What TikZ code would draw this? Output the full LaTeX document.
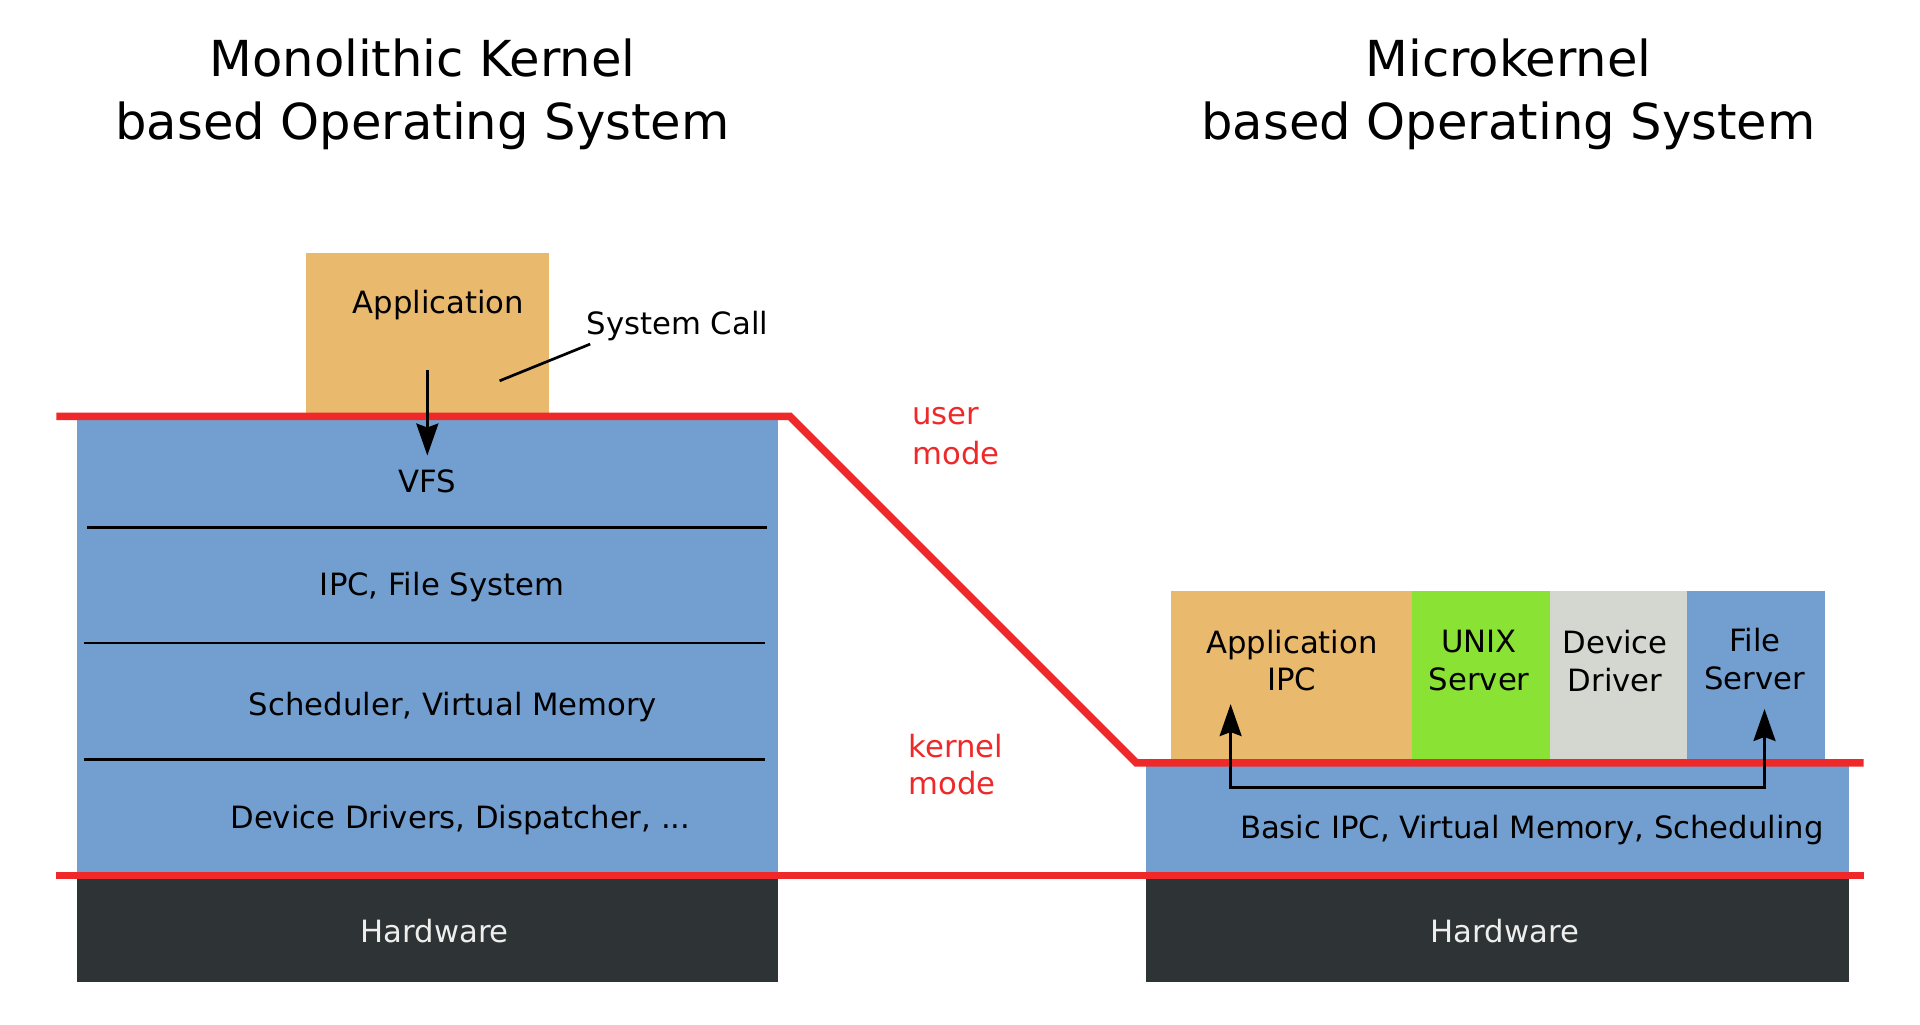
\documentclass[tikz,border=0pt]{standalone}
\usepackage{fontspec}
\setmainfont{DejaVu Sans}
\usetikzlibrary{arrows.meta,fit}
\definecolor{tblue}{HTML}{729FCF}
\definecolor{torange}{HTML}{E9B96E}
\definecolor{tgreen}{HTML}{8AE234}
\definecolor{tgrey}{HTML}{D3D7CF}
\definecolor{tdark}{HTML}{2E3436}
\definecolor{tred}{HTML}{EF2929}
\definecolor{tlight}{HTML}{EEEEEC}
\begin{document}
\begin{tikzpicture}[x=1.2245pt,y=-1.2245pt,
  box/.style={inner sep=0pt,outer sep=0pt,draw=none},
  lbl/.style={font=\fontsize{30.7}{36}\selectfont,anchor=base,inner sep=0pt},
  ttl/.style={font=\fontsize{49.6}{60}\selectfont,anchor=base,inner sep=0pt},
  redtxt/.style={lbl,anchor=base west,text=tred},
  redline/.style={draw=tred,line width=7.6pt},
  sepline/.style={draw=black,line width=2.7pt},
  arr/.style={draw=black,line width=2.7pt,-{Stealth[length=32pt,width=22pt,inset=4pt]}},
  darr/.style={draw=black,line width=2.7pt,{Stealth[length=32pt,width=22pt,inset=4pt]}-{Stealth[length=32pt,width=22pt,inset=4pt]}},
  lead/.style={draw=black,line width=2.7pt}]
\useasboundingbox (0,0) rectangle (1568,836.3);
\fill[white] (0,0) rectangle (1568,836.3);

% titles
\node[ttl] (t1a) at (345,62.5) {Monolithic Kernel};
\node[ttl] (t1b) at (345,114) {based Operating System};
\node[ttl] (t2a) at (1232,62.5) {Microkernel};
\node[ttl] (t2b) at (1232,114) {based Operating System};

% monolithic
\node[box,fill=torange,fit={(250,207) (448,340)}] (app) {};
\node[box,fill=tblue,fit={(63,340) (635,715)}] (mono) {};
\node[box,fill=tdark,fit={(63,715) (635,802)}] (hw1) {};
\node[lbl] (applbl) at (358,256) {Application};
\node[lbl,anchor=base west] (syscall) at (479,273) {System Call};
\node[lbl] (vfs) at (349,402) {VFS};
\node[lbl] (ipcfs) at (361,486) {IPC, File System};
\node[lbl] (sched) at (370,584) {Scheduler, Virtual Memory};
\node[lbl] (devdrv) at (376,677) {Device Drivers, Dispatcher, ...};
\node[lbl,text=tlight] (hw1lbl) at (355,770) {Hardware};
\draw[sepline] (71,431) -- (626,431);
\draw[sepline] (69,525) -- (625,525);
\draw[sepline] (69,620) -- (625,620);

% microkernel
\node[box,fill=tblue,fit={(936,623) (1510,715)}] (mk) {};
\node[box,fill=tdark,fit={(936,715) (1510,802)}] (hw2) {};
\node[box,fill=torange,fit={(956,483) (1153,623)}] (aipc) {};
\node[box,fill=tgreen,fit={(1153,483) (1266,623)}] (unix) {};
\node[box,fill=tgrey,fit={(1266,483) (1378,623)}] (dd) {};
\node[box,fill=tblue,fit={(1378,483) (1490,623)}] (fs) {};
\node[lbl] (aipc1) at (1055,534) {Application};
\node[lbl] (aipc2) at (1055,564) {IPC};
\node[lbl] (unix1) at (1208,533) {UNIX};
\node[lbl] (unix2) at (1208,564) {Server};
\node[lbl] (dd1) at (1319,534) {Device};
\node[lbl] (dd2) at (1319,565) {Driver};
\node[lbl] (fs1) at (1433,532) {File};
\node[lbl] (fs2) at (1433,563) {Server};
\node[lbl] (mklbl) at (1251,685) {Basic IPC, Virtual Memory, Scheduling};
\node[lbl,text=tlight] (hw2lbl) at (1229,770) {Hardware};

% mode labels
\node[redtxt] (user1) at (745,347) {user};
\node[redtxt] (user2) at (745,379) {mode};
\node[redtxt] (kern1) at (742,619) {kernel};
\node[redtxt] (kern2) at (742,649) {mode};

% red boundaries
\coordinate (rA) at (46,340);
\coordinate (rB) at (645,340);
\coordinate (rC) at (928,623);
\coordinate (rD) at (1522,623);
\coordinate (rE) at (46,715);
\coordinate (rF) at (1522,715);
\draw[redline] (rA) -- (rB) -- (rC) -- (rD);
\draw[redline] (rE) -- (rF);

% arrows
\coordinate (scStart) at (349,302);
\coordinate (scEnd) at (349,372);
\draw[arr] (scStart) -- (scEnd);
\coordinate (leadA) at (482,281);
\coordinate (leadB) at (408,311);
\draw[lead] (leadA) -- (leadB);
\coordinate (mTipL) at (1005,575);
\coordinate (mTipR) at (1441,579);
\coordinate (mBotL) at (1005,643);
\coordinate (mBotR) at (1441,643);
\draw[darr] (mTipL) -- (mBotL) -- (mBotR) -- (mTipR);
\end{tikzpicture}
\end{document}
